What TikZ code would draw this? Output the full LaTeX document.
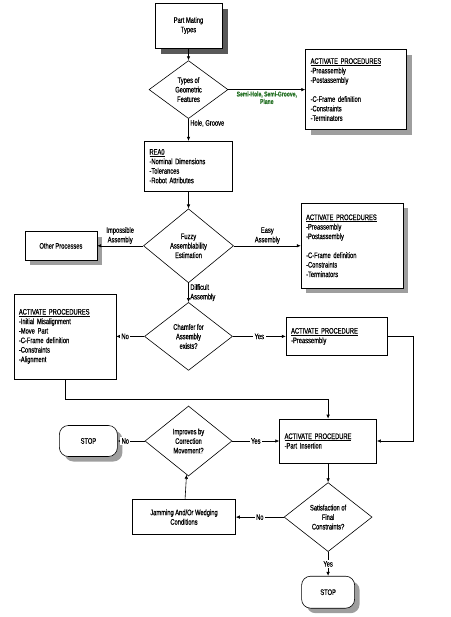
\documentclass[tikz,border=0pt]{standalone}
\usepackage{fontspec}
\setmainfont{Liberation Sans}[FakeStretch=0.72, FakeBold=0.5]
\usetikzlibrary{arrows.meta, positioning, shapes.geometric, shadows}
\definecolor{featgreen}{RGB}{40,115,40}

\begin{document}
\begin{tikzpicture}[
  x=1pt, y=1pt,
  node distance=20pt and 40pt,
  every node/.style={font=\fontsize{8}{9.5}\selectfont},
  box/.style={
    draw, fill=white, line width=0.6pt,
    align=left, inner sep=5pt
  },
  decision/.style={
    diamond, draw, fill=white, line width=0.6pt,
    align=center, inner sep=0pt
  },
  terminal/.style={
    draw, fill=white, line width=0.6pt, rounded corners=9pt,
    align=center, dotshadow
  },
  dotshadow/.style={
    drop shadow={shadow xshift=5pt, shadow yshift=-5pt, opacity=1, fill=black!38}
  },
  arrow/.style={-{Latex[length=4pt, width=3.5pt]}, line width=0.6pt},
  lbl/.style={fill=white, inner sep=1.5pt},
  note/.style={inner sep=1.5pt, align=center}
]
  \useasboundingbox (0,0) rectangle (450,-617);

  % dark shadow of the start box
  \fill[black!65] (161,-9) rectangle (228,-54);

  % Main column
  \node[box, align=center, minimum width=67pt, minimum height=45pt]
        (mating) at (188.5,-25.5) {Part Mating\\Types};
  \node[decision, minimum width=79pt, minimum height=58pt, below=12pt of mating]
        (geom) {Types of\\Geometric\\Features};
  \node[box, text width=78pt, minimum height=50pt, below=22pt of geom]
        (rea) {\underline{REA0}\\-Nominal Dimensions\\-Tolerances\\-Robot Attributes};
  \node[decision, minimum width=90pt, minimum height=74pt, below=17pt of rea]
        (fuzzy) {Fuzzy\\Assemblability\\Estimation};
  \node[decision, minimum width=88pt, minimum height=68pt, below=19pt of fuzzy]
        (chamfer) {Chamfer for\\Assembly\\exists?};
  \node[decision, minimum width=87pt, minimum height=70pt, below=35pt of chamfer]
        (improve) {Improves by\\Correction\\Movement?};

  % Side boxes
  \node[box, text width=91pt, minimum height=80pt, dotshadow, right=77pt of geom]
        (procA) {\underline{ACTIVATE PROCEDURES}\\-Preassembly\\-Postassembly\\[9.5pt]
                 -C-Frame definition\\-Constraints\\-Terminators};
  \node[box, align=center, minimum width=72pt, minimum height=28pt, dotshadow, left=46pt of fuzzy]
        (other) {Other Processes};
  \node[box, text width=92pt, minimum height=85pt, dotshadow, right=67pt of fuzzy]
        (procB) {\underline{ACTIVATE PROCEDURES}\\-Preassembly\\-Postassembly\\[9.5pt]
                 -C-Frame definition\\-Constraints\\-Terminators};
  \node[box, text width=92pt, minimum height=85pt, left=28pt of chamfer]
        (procC) {\underline{ACTIVATE PROCEDURES}\\-Initial Misalignment\\-Move Part\\
                 -C-Frame definition\\-Constraints\\-Alignment};
  \node[box, text width=91pt, minimum height=38pt, right=53pt of chamfer]
        (procD) {\underline{ACTIVATE PROCEDURE}\\-Preassembly};
  \node[box, text width=87pt, minimum height=44pt, right=47pt of improve]
        (insert) {\underline{ACTIVATE PROCEDURE}\\-Part Insertion};
  \node[terminal, minimum width=58pt, minimum height=31pt, left=27pt of improve]
        (stopA) {STOP};
  \node[decision, minimum width=88pt, minimum height=69pt, below=19pt of insert]
        (final) {Satisfaction of\\Final\\Constraints?};
  \node[box, align=center, minimum width=103pt, minimum height=35pt, left=48pt of final]
        (jam) {Jamming And/Or Wedging\\Conditions};
  \node[terminal, minimum width=53pt, minimum height=32pt, below=24pt of final]
        (stopB) {STOP};

  % Connectors
  \draw[arrow] (mating) -- (geom);
  \draw[arrow] (geom) -- (procA)
    node[note, midway, below, text=featgreen, font=\fontsize{7}{7.5}\selectfont\bfseries]
    {Semi-Hole, Semi-Groove,\\Plane};
  \draw[arrow] (geom) -- (rea) node[note, pos=0.2, right] {Hole, Groove};
  \draw[arrow] (rea) -- (fuzzy);
  \draw[arrow] (fuzzy) -- (other) node[note, midway, above] {Impossible\\Assembly};
  \draw[arrow] (fuzzy) -- (procB) node[note, midway, above] {Easy\\Assembly};
  \draw[arrow] (fuzzy) -- (chamfer) node[note, midway, right, align=left] {Difficult\\Assembly};
  \draw[arrow] (chamfer) -- (procC) node[lbl, pos=0.68] {No};
  \draw[arrow] (chamfer) -- (procD) node[lbl, midway] {Yes};

  % Routes into part insertion
  \draw[arrow] (procC.south) -- ++(0,-20pt) -| (insert.north);
  \draw[arrow] (procD.east) -- ++(26pt,0) |- (insert.east);

  % Lower loop
  \draw[arrow] (improve) -- (insert) node[lbl, midway] {Yes};
  \draw[arrow] (improve) -- (stopA) node[lbl, pos=0.72] {No};
  \draw[arrow] (insert) -- (final);
  \draw[arrow] (final) -- (jam) node[lbl, midway] {No};
  \draw[arrow] (jam) -- (improve);
  \draw[arrow] (final) -- (stopB) node[lbl, midway] {Yes};

\end{tikzpicture}
\end{document}
